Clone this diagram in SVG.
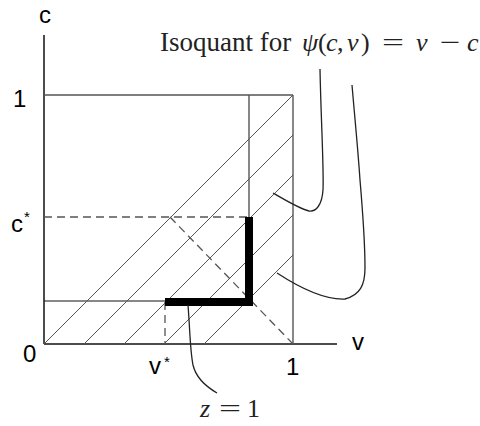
<svg xmlns="http://www.w3.org/2000/svg" width="480" height="426" viewBox="0 0 480 426">
<style>
.axis{stroke:#111;stroke-width:1.5;fill:none}
.box{stroke:#555;stroke-width:1.4;fill:none}
.hatch{stroke:#555;stroke-width:1;fill:none}
.dash{stroke:#555;stroke-width:1.3;fill:none;stroke-dasharray:8 5}
.lead{stroke:#222;stroke-width:1.3;fill:none}
.sans{font-family:"Liberation Sans",Arial,sans-serif;font-size:24px;fill:#000}
.star{font-family:"Liberation Sans",Arial,sans-serif;font-size:15px;fill:#000}
.serif{font-family:"Liberation Serif","Times New Roman",serif;font-size:26px;fill:#222}
.it{font-style:italic}
</style>
<rect width="480" height="426" fill="#fff"/>
<g id="axes">
<line class="axis" x1="44" y1="35" x2="44" y2="344"/>
<line class="axis" x1="44" y1="344" x2="337" y2="344"/>
</g>
<g id="box">
<line class="box" x1="44" y1="95" x2="293" y2="95"/>
<line class="box" x1="293" y1="95" x2="293" y2="344"/>
<line class="box" x1="249" y1="95" x2="249" y2="217"/>
<line class="axis" x1="44" y1="301" x2="165" y2="301" style="stroke-width:1.2"/>
</g>
<g id="hatch">
<line class="hatch" x1="44" y1="344" x2="293" y2="95"/>
<line class="hatch" x1="84" y1="344" x2="293" y2="135"/>
<line class="hatch" x1="124" y1="344" x2="293" y2="175"/>
<line class="hatch" x1="164" y1="344" x2="293" y2="215"/>
<line class="hatch" x1="204" y1="344" x2="293" y2="255"/>
</g>
<g id="dashed">
<line class="dash" x1="44" y1="217" x2="249" y2="217"/>
<line class="dash" x1="165" y1="302" x2="165" y2="344"/>
<line class="dash" x1="170" y1="217" x2="293" y2="344"/>
</g>
<g id="z-locus">
<path d="M165,302 H249 V217" fill="none" stroke="#000" stroke-width="8" stroke-linejoin="miter"/>
</g>
<g id="connectors">
<path class="lead" d="M320,69 C321,120 324,170 323,190 C322,205 316,212 309,211 C300,209 285,200 273,193"/>
<path class="lead" d="M352,85 C355,120 358,150 360,180 C363,215 365,250 365,268 C365,285 360,295 345,299 C325,300 300,288 277,273"/>
<path class="lead" d="M188,305 C190,330 190,350 193,365 C196,378 205,386 217,393"/>
</g>
<g id="labels">
<text class="sans" x="39" y="23">c</text>
<text class="sans" x="13" y="107">1</text>
<text class="sans" x="11" y="232">c</text>
<text class="star" x="24" y="222">*</text>
<text class="sans" x="23" y="362">0</text>
<text class="sans" x="149" y="374">v</text>
<text class="star" x="164" y="367">*</text>
<text class="sans" x="286" y="375">1</text>
<text class="sans" x="352" y="350">v</text>
<text class="serif" y="51"><tspan x="160" style="font-size:27px">Isoquant for</tspan><tspan class="it" x="302">ψ</tspan><tspan x="318">(</tspan><tspan class="it" x="326">c</tspan><tspan x="337">,</tspan><tspan class="it" x="347">v</tspan><tspan x="361">)</tspan><tspan class="it" x="416">v</tspan><tspan class="it" x="467">c</tspan></text>
<text class="serif" transform="translate(382,51) scale(1.5,1)">=</text>
<text class="serif" transform="translate(440,51) scale(1.4,1)">−</text>
<text class="serif" y="417"><tspan class="it" x="200">z</tspan><tspan x="247">1</tspan></text>
<text class="serif" transform="translate(219,417) scale(1.5,1)">=</text>
</g>
</svg>
